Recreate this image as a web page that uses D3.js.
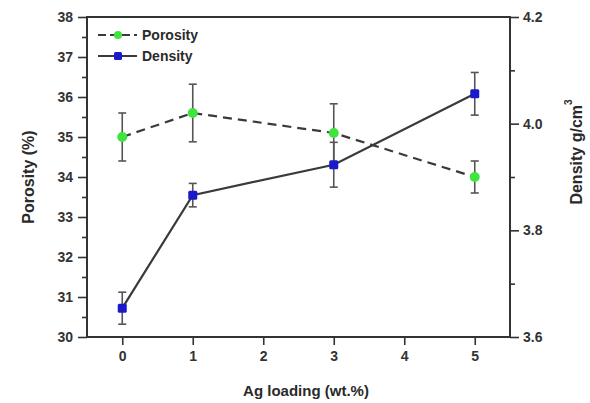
<!DOCTYPE html>
<html><head><meta charset="utf-8">
<script src="https://cdn.jsdelivr.net/npm/d3@7"></script>
<style>
html,body{margin:0;padding:0;background:#fff;}
svg text{font-family:"Liberation Sans",Arial,sans-serif;font-weight:bold;fill:#2a2a2a;}
</style></head>
<body>
<svg id="chart" width="590" height="403"></svg>
<script>
const agLoading = [0, 1, 3, 5];
const porosity = [35.0, 35.6, 35.1, 34.0];
const porosityErr = [0.6, 0.72, 0.73, 0.4];
const density = [3.654, 3.866, 3.923, 4.056];
const densityErr = [0.03, 0.022, 0.042, 0.04];
const xTicks = [0, 1, 2, 3, 4, 5];
const yLeftTicks = [30, 31, 32, 33, 34, 35, 36, 37, 38];
const yLeftMinor = [30.5, 31.5, 32.5, 33.5, 34.5, 35.5, 36.5, 37.5];
const yRightTicks = [3.6, 3.8, 4.0, 4.2];
const yRightMinor = [3.7, 3.9, 4.1];

const svg = d3.select("#chart");
const L = 87, R = 510, T = 17, B = 337;
const x = d3.scaleLinear().domain([-0.5, 5.5]).range([L, R]);
const yL = d3.scaleLinear().domain([30, 38]).range([B, T]);
const yR = d3.scaleLinear().domain([3.6, 4.2]).range([B, T]);
const axisColor = "#333";

function styleAxis(g){
  g.selectAll(".domain").remove();
  g.selectAll("line").attr("stroke", axisColor).attr("stroke-width", 1.6);
  g.selectAll("text").attr("font-size", 14).style("fill", "#333");
}

// left axis
svg.append("g").attr("transform", `translate(${L},0)`)
  .call(d3.axisLeft(yL).tickValues(yLeftTicks).tickSize(9).tickPadding(5).tickFormat(d3.format("d")))
  .call(styleAxis);
svg.append("g").attr("transform", `translate(${L},0)`)
  .call(d3.axisLeft(yL).tickValues(yLeftMinor).tickSize(5).tickFormat(""))
  .call(styleAxis);
// right axis
svg.append("g").attr("transform", `translate(${R},0)`)
  .call(d3.axisRight(yR).tickValues(yRightTicks).tickSize(9).tickPadding(4).tickFormat(d3.format(".1f")))
  .call(styleAxis);
svg.append("g").attr("transform", `translate(${R},0)`)
  .call(d3.axisRight(yR).tickValues(yRightMinor).tickSize(5).tickFormat(""))
  .call(styleAxis);
// bottom axis
svg.append("g").attr("transform", `translate(0,${B})`)
  .call(d3.axisBottom(x).tickValues(xTicks).tickSize(8).tickPadding(6).tickFormat(d3.format("d")))
  .call(styleAxis);

// frame
svg.append("rect").attr("x", L).attr("y", T).attr("width", R - L).attr("height", B - T)
  .attr("fill", "none").attr("stroke", "#333").attr("stroke-width", 2);

// porosity line (dashed)
const lineP = d3.line().x((d, i) => x(agLoading[i])).y(d => yL(d));
svg.append("path").datum(porosity).attr("d", lineP)
  .attr("fill", "none").attr("stroke", "#3a3a3a").attr("stroke-width", 2.2).attr("stroke-dasharray", "9,6");
// density line
const lineD = d3.line().x((d, i) => x(agLoading[i])).y(d => yR(d));
svg.append("path").datum(density).attr("d", lineD)
  .attr("fill", "none").attr("stroke", "#3a3a3a").attr("stroke-width", 2.2);

function errBars(vals, errs, y){
  const g = svg.append("g").attr("stroke", "#555").attr("stroke-width", 1.6);
  vals.forEach((v, i) => {
    const cx = x(agLoading[i]);
    g.append("line").attr("x1", cx).attr("x2", cx).attr("y1", y(v - errs[i])).attr("y2", y(v + errs[i]));
    g.append("line").attr("x1", cx - 4).attr("x2", cx + 4).attr("y1", y(v - errs[i])).attr("y2", y(v - errs[i]));
    g.append("line").attr("x1", cx - 4).attr("x2", cx + 4).attr("y1", y(v + errs[i])).attr("y2", y(v + errs[i]));
  });
}
errBars(porosity, porosityErr, yL);
errBars(density, densityErr, yR);

const green = "#3fe43f", blue = "#1a1acc";
svg.append("g").selectAll("circle").data(porosity).join("circle")
  .attr("cx", (d, i) => x(agLoading[i])).attr("cy", d => yL(d)).attr("r", 5).attr("fill", green);
svg.append("g").selectAll("rect").data(density).join("rect")
  .attr("x", (d, i) => x(agLoading[i]) - 4.5).attr("y", d => yR(d) - 4.5)
  .attr("width", 9).attr("height", 9).attr("rx", 1.5).attr("fill", blue);

// legend
const leg = svg.append("g");
leg.append("line").attr("x1", 98).attr("x2", 137).attr("y1", 35).attr("y2", 35)
  .attr("stroke", "#3a3a3a").attr("stroke-width", 2.2).attr("stroke-dasharray", "8,4");
leg.append("circle").attr("cx", 118).attr("cy", 35).attr("r", 4).attr("fill", green);
leg.append("text").attr("x", 142).attr("y", 40).attr("font-size", 14).text("Porosity");
leg.append("line").attr("x1", 98).attr("x2", 137).attr("y1", 56).attr("y2", 56)
  .attr("stroke", "#3a3a3a").attr("stroke-width", 2.2);
leg.append("rect").attr("x", 114).attr("y", 52).attr("width", 8).attr("height", 8).attr("rx", 1.5).attr("fill", blue);
leg.append("text").attr("x", 142).attr("y", 61).attr("font-size", 14).text("Density");

// axis titles
svg.append("text").attr("transform", `translate(34,${(T + B) / 2}) rotate(-90)`)
  .attr("text-anchor", "middle").attr("font-size", 16).text("Porosity (%)");
svg.append("text").attr("x", 306).attr("y", 396)
  .attr("text-anchor", "middle").attr("font-size", 15).text("Ag loading (wt.%)");
const rt = svg.append("text").attr("transform", `translate(582,152) rotate(-90)`)
  .attr("text-anchor", "middle").attr("font-size", 16);
rt.append("tspan").text("Density g/cm");
rt.append("tspan").attr("dy", -10).attr("font-size", 10).text("3");
</script>
</body></html>
